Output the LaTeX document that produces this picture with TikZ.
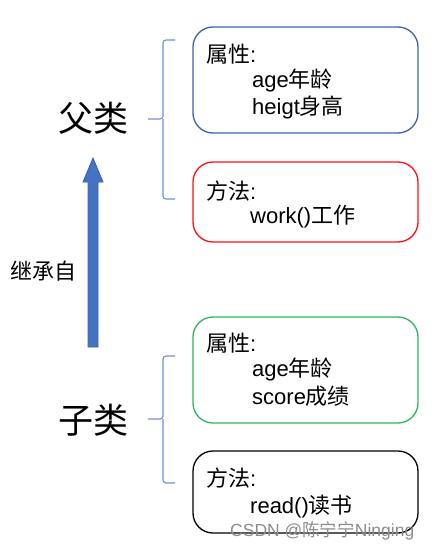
\documentclass[tikz,border=0pt]{standalone}
\usepackage{fontspec}
\setmainfont{Liberation Sans}
\newfontfamily\cjk{Noto Sans CJK SC}
\usetikzlibrary{arrows.meta}
\definecolor{boxblue}{HTML}{3F5FAF}
\definecolor{boxred}{HTML}{FF1010}
\definecolor{boxgreen}{HTML}{2FB55A}
\definecolor{bracecol}{HTML}{6C8FD6}
\definecolor{arrowfill}{HTML}{4472C4}
\definecolor{arrowedge}{HTML}{3A62AA}
\tikzset{
  mbox/.style={draw, line width=1.3pt, rounded corners=20pt},
  boxtxt/.style={anchor=base west, inner sep=0pt, font=\fontsize{22}{26}\selectfont},
  big/.style={inner sep=0pt, font=\cjk\fontsize{35}{40}\selectfont},
  bracestyle/.style={draw=bracecol, line width=1.1pt, rounded corners=3pt},
}
\begin{document}
\begin{tikzpicture}[x=1pt,y=-1pt]
\useasboundingbox (0,0) rectangle (442,549);
% boxes
\draw[mbox, boxblue] (193,27) rectangle (418,133);
\draw[mbox, boxred] (193,162) rectangle (418,242);
\draw[mbox, boxgreen] (193,317) rectangle (418,423);
\draw[mbox, black] (193,451) rectangle (418,533);
% box texts
\node[boxtxt] (p1) at (206,62) {{\cjk 属性}:};
\node[boxtxt] (p1a) at (252,87) {age{\cjk 年龄}};
\node[boxtxt] (p1b) at (252,114) {heigt{\cjk 身高}};
\node[boxtxt] (m1) at (206,199) {{\cjk 方法}:};
\node[boxtxt] (m1a) at (250,223) {work(){\cjk 工作}};
\node[boxtxt] (p2) at (206,351) {{\cjk 属性}:};
\node[boxtxt] (p2a) at (252,376) {age{\cjk 年龄}};
\node[boxtxt] (p2b) at (252,404) {score{\cjk 成绩}};
\node[boxtxt] (m2) at (206,486) {{\cjk 方法}:};
\node[boxtxt] (m2a) at (250,513) {read(){\cjk 读书}};
% big labels
\node[big] (fu) at (93,118) {父类};
\node[big] (zi) at (93,420) {子类};
\node[inner sep=0pt, font=\cjk\fontsize{22}{24}\selectfont] (jc) at (43,271) {继承自};
% braces
\draw[bracestyle] (175,40) -- (163,40) -- (163,119) -- (148,119);
\draw[bracestyle] (163,119) -- (163,199) -- (175,199);
\draw[bracestyle] (175,356) -- (163,356) -- (163,419) -- (148,419);
\draw[bracestyle] (163,419) -- (163,483) -- (175,483);
% arrow
\coordinate (at) at (93,158);
\draw[fill=arrowfill, draw=arrowedge, line width=0.8pt, line join=miter]
  (88,347) -- (88,182) -- (83,182) -- (at) -- (103,182) -- (98,182) -- (98,347) -- cycle;
% watermark
\node[anchor=base west, inner sep=0pt, text=black!45, font=\fontsize{17.5}{20}\selectfont] (wm) at (230,536) {CSDN @{\cjk 陈宁宁}Ninging};
\end{tikzpicture}
\end{document}
